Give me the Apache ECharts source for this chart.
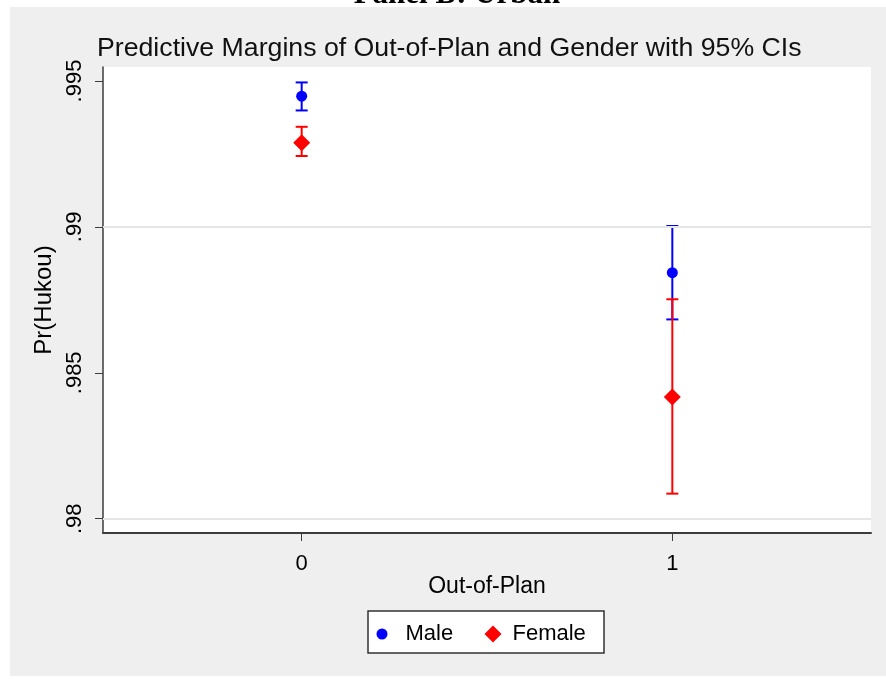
<!DOCTYPE html>
<html>
<head>
<meta charset="utf-8">
<title>Predictive Margins</title>
<script src="https://cdn.jsdelivr.net/npm/echarts@6.0.0/dist/echarts.min.js"></script>
<style>
  html, body { margin: 0; padding: 0; background: #fff; }
  #chart { width: 886px; height: 679px; }
</style>
</head>
<body>
<div id="chart"></div>
<script>
  // values
  const outOfPlan = [0, 1];
  const maleMargin = [0.99448, 0.98843];
  const maleLower = [0.99399, 0.98683];
  const maleUpper = [0.99495, 0.99003];
  const femaleMargin = [0.99288, 0.98417];
  const femaleLower = [0.99243, 0.98086];
  const femaleUpper = [0.99343, 0.98752];
  const yTicks = [0.98, 0.985, 0.99, 0.995];
  const yTickLabels = ['.98', '.985', '.99', '.995'];

  const font = "'Liberation Sans', Arial, sans-serif";
  const axisColor = '#3c3c3c';

  const chart = echarts.init(document.getElementById('chart'));

  function ciBars(color) {
    return function (params, api) {
      const x = api.value(0);
      const lo = api.coord([x, api.value(1)]);
      const hi = api.coord([x, api.value(2)]);
      const half = 6;
      const style = { stroke: color, lineWidth: 2 };
      return {
        type: 'group',
        children: [
          { type: 'line', shape: { x1: lo[0], y1: lo[1], x2: hi[0], y2: hi[1] }, style: style },
          { type: 'line', shape: { x1: hi[0] - half, y1: hi[1], x2: hi[0] + half, y2: hi[1] }, style: style },
          { type: 'line', shape: { x1: lo[0] - half, y1: lo[1], x2: lo[0] + half, y2: lo[1] }, style: style }
        ]
      };
    };
  }

  let option = {
    animation: false,
    backgroundColor: '#fff',
    textStyle: { fontFamily: font, color: '#000' },
    title: {
      text: 'Predictive Margins of Out-of-Plan and Gender with 95% CIs',
      left: 97,
      top: 35,
      padding: 0,
      textStyle: { fontFamily: font, fontSize: 26.7, fontWeight: 'normal', color: '#111' }
    },
    graphic: [
      {
        type: 'rect', z: -10, silent: true,
        shape: { x: 10, y: 7, width: 876, height: 669 },
        style: { fill: '#efefef' }
      },
      {
        type: 'text', z: 5, silent: true,
        x: 457, y: -5,
        style: {
          text: 'Panel B: Urban',
          font: "bold 31px 'Liberation Serif', 'Times New Roman', serif",
          fill: '#000', align: 'center', verticalAlign: 'middle'
        }
      },
      {
        type: 'rect', z: 1, silent: true,
        shape: { x: 368, y: 611, width: 236, height: 42 },
        style: { fill: '#fff', stroke: '#333', lineWidth: 1.5 }
      }
    ],
    legend: [
      {
        data: [{ name: 'Male', icon: 'circle' }],
        left: 376.5, top: 623, padding: 0,
        itemWidth: 11, itemHeight: 11,
        textStyle: { fontFamily: font, fontSize: 22, color: '#000', padding: [0, 0, 0, 13] }
      },
      {
        data: [{ name: 'Female', icon: 'diamond' }],
        left: 484.5, top: 623, padding: 0,
        itemWidth: 17, itemHeight: 17,
        textStyle: { fontFamily: font, fontSize: 22, color: '#000', padding: [0, 0, 0, 6] }
      }
    ],
    grid: {
      left: 103, right: 15, top: 67, bottom: 146,
      show: true, backgroundColor: '#fff', borderWidth: 0
    },
    xAxis: {
      type: 'value',
      min: -0.536,
      max: 1.536,
      name: 'Out-of-Plan',
      nameLocation: 'middle',
      nameGap: 42,
      nameMoveOverlap: false,
      nameTextStyle: { fontFamily: font, fontSize: 23, color: '#000' },
      axisLine: { show: true, onZero: false, lineStyle: { color: axisColor, width: 2 } },
      axisTick: { show: true, inside: false, length: 8, customValues: outOfPlan, lineStyle: { color: axisColor, width: 1 } },
      axisLabel: { customValues: outOfPlan, margin: 20, fontFamily: font, fontSize: 22, color: '#000' },
      splitLine: { show: false }
    },
    yAxis: {
      type: 'value',
      min: 0.979511,
      max: 0.995479,
      name: 'Pr(Hukou)',
      nameLocation: 'middle',
      nameRotate: 90,
      nameGap: 44,
      nameTextStyle: { fontFamily: font, fontSize: 24, color: '#000' },
      axisLine: { show: true, onZero: false, lineStyle: { color: axisColor, width: 1.5 } },
      axisTick: { show: true, inside: false, length: 8, customValues: yTicks, lineStyle: { color: axisColor, width: 1 } },
      axisLabel: {
        customValues: yTicks,
        rotate: 90,
        margin: 17,
        fontFamily: font, fontSize: 22, color: '#000',
        formatter: function (v) {
          const i = yTicks.findIndex(t => Math.abs(t - v) < 1e-9);
          return i >= 0 ? yTickLabels[i] : '';
        }
      },
      splitLine: { show: false }
    },
    series: [
      {
        name: 'grid lines',
        type: 'scatter',
        data: [],
        silent: true,
        markLine: {
          silent: true,
          symbol: 'none',
          label: { show: false },
          lineStyle: { color: '#e6e6e6', width: 2, type: 'solid' },
          data: yTicks.map(v => ({ yAxis: v }))
        }
      },
      {
        name: 'Male CI',
        type: 'custom',
        z: 3,
        renderItem: ciBars('#0000ff'),
        encode: { x: 0, y: [1, 2] },
        data: outOfPlan.map((x, i) => [x, maleLower[i], maleUpper[i]])
      },
      {
        name: 'Female CI',
        type: 'custom',
        z: 3,
        renderItem: ciBars('#ff0000'),
        encode: { x: 0, y: [1, 2] },
        data: outOfPlan.map((x, i) => [x, femaleLower[i], femaleUpper[i]])
      },
      {
        name: 'Male',
        type: 'scatter',
        z: 4,
        symbol: 'circle',
        symbolSize: 11,
        itemStyle: { color: '#0000ff', opacity: 1 },
        data: outOfPlan.map((x, i) => [x, maleMargin[i]])
      },
      {
        name: 'Female',
        type: 'scatter',
        z: 4,
        symbol: 'diamond',
        symbolSize: 17,
        itemStyle: { color: '#ff0000', opacity: 1 },
        data: outOfPlan.map((x, i) => [x, femaleMargin[i]])
      }
    ]
  };

  chart.setOption(option);
</script>
</body>
</html>
